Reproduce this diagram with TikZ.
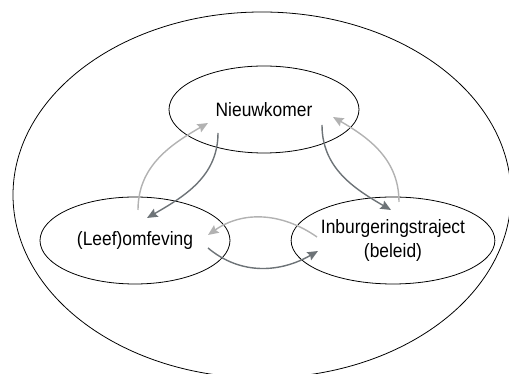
\documentclass[tikz,border=0pt]{standalone}
\usepackage{fontspec}
\setmainfont[FakeStretch=0.9]{Liberation Sans}
\usepackage{tikz}
\usetikzlibrary{arrows.meta,positioning,shapes.geometric}
\definecolor{lightarrow}{HTML}{B2B2B2}
\definecolor{darkarrow}{HTML}{6D7377}

\begin{document}
\begin{tikzpicture}[
    font=\fontsize{11pt}{13.5pt}\selectfont,
    actor/.style={draw, ellipse, line width=0.45pt, inner sep=0, minimum width=3.8cm, minimum height=1.74cm, align=center},
    field/.style={draw, ellipse, line width=0.45pt, inner sep=0, minimum width=9.96cm, minimum height=7.32cm},
    flow/.style={line width=0.8pt, -{Stealth[length=0.21cm, width=0.18cm, inset=0.03cm]}},
    light/.style={flow, lightarrow},
    dark/.style={flow, darkarrow}]
\useasboundingbox (0,0) rectangle (10.18,7.48);
\node[field] (context) at (5.24,3.58) {};
\node[actor] (nieuw) at (5.28,5.29) {Nieuwkomer};
\node[actor] (leef)  at (2.70,2.67) {(Leef)omfeving};
\node[actor] (inb)   at (7.86,2.67) {Inburgeringstraject\\(beleid)};

\draw[light] ([shift={(0.06,0.61)}]leef.center)  to[out=90, in=210]  ([shift={(-1.12,-0.27)}]nieuw.center);
\draw[dark]  ([shift={(-0.92,-0.47)}]nieuw.center) to[out=-90, in=30] ([shift={(0.24,0.45)}]leef.center);
\draw[dark]  ([shift={(1.16,-0.31)}]nieuw.center) to[out=-90, in=150] ([shift={(-0.04,0.61)}]inb.center);
\draw[light] ([shift={(0.12,0.77)}]inb.center)    to[out=90, in=-30]  ([shift={(1.38,-0.15)}]nieuw.center);
\draw[light] ([shift={(-1.52,0.07)}]inb.center)   to[out=145, in=35]  ([shift={(1.46,0.11)}]leef.center);
\draw[dark]  ([shift={(1.46,-0.15)}]leef.center)  to[out=-40, in=210] ([shift={(-1.5,-0.21)}]inb.center);

\end{tikzpicture}
\end{document}
